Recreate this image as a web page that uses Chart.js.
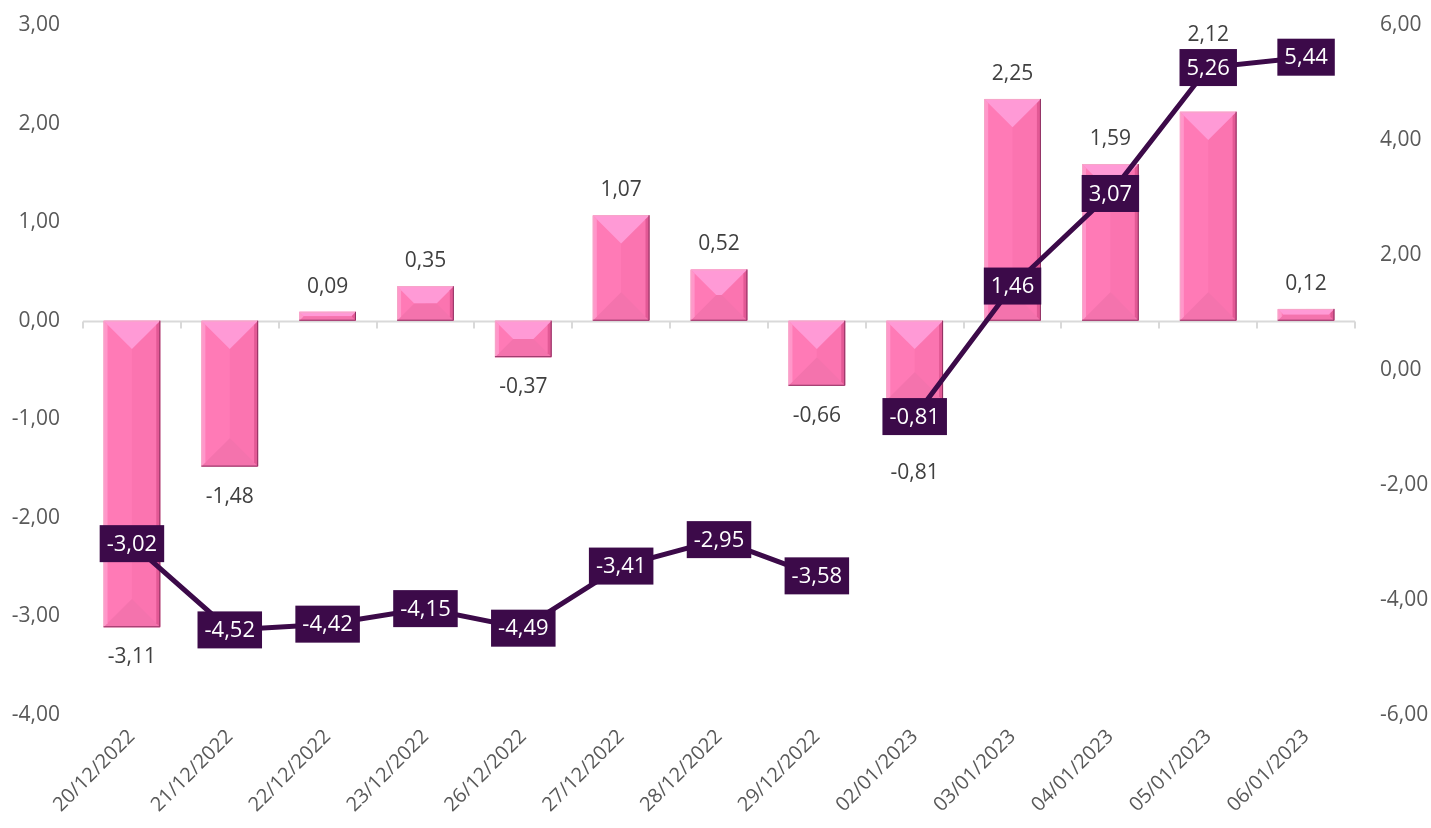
<!DOCTYPE html>
<html>
<head>
<meta charset="utf-8">
<script src="https://cdn.jsdelivr.net/npm/chart.js@4"></script>
<style>
  html, body { margin: 0; padding: 0; background: #fff; }
  #wrap { width: 1431px; height: 828px; }
</style>
</head>
<body>
<div id="wrap"><canvas id="chart"></canvas></div>
<script>
const dates = ['20/12/2022', '21/12/2022', '22/12/2022', '23/12/2022', '26/12/2022', '27/12/2022',
    '28/12/2022', '29/12/2022', '02/01/2023', '03/01/2023', '04/01/2023', '05/01/2023', '06/01/2023'];
const barValues = [-3.11, -1.48, 0.09, 0.35, -0.37, 1.07, 0.52, -0.66, -0.81, 2.25, 1.59, 2.12, 0.12];
const lineValues = [-3.02, -4.52, -4.42, -4.15, -4.49, -3.41, -2.95, -3.58, -0.81, 1.46, 3.07, 5.26, 5.44];
const gapAfter = 7; // no segment drawn between 29/12 and 02/01

const FONT = "'Open Sans', sans-serif";
const fmt = v => v.toFixed(2).replace('.', ',');

// bar labels that were moved out of the way of the line boxes
const labelNudge = { 8: 42, 11: -52 };

// bevelled look for the bars + zero line with tick marks
const bevelPlugin = {
    id: 'bevel',
    afterDatasetDraw(chart, args) {
        if (args.index !== 0) return;
        const ctx = chart.ctx;
        args.meta.data.forEach(bar => {
            const l = bar.x - bar.width / 2, r = bar.x + bar.width / 2;
            const t = Math.min(bar.y, bar.base), b = Math.max(bar.y, bar.base);
            const w = r - l, h = b - t;
            const d = Math.min(w / 2, h / 2);
            const e = Math.min(4, d);
            ctx.save();
            // right half slightly darker
            ctx.fillStyle = 'rgba(210,50,120,0.08)';
            ctx.fillRect(bar.x, t, r - bar.x, h);
            // top bevel
            ctx.beginPath();
            ctx.moveTo(l, t); ctx.lineTo(r, t); ctx.lineTo(r - d, t + d); ctx.lineTo(l + d, t + d); ctx.closePath();
            ctx.fillStyle = '#FF9AD6';
            ctx.fill();
            // bottom bevel
            ctx.beginPath();
            ctx.moveTo(l, b); ctx.lineTo(r, b); ctx.lineTo(r - d, b - d); ctx.lineTo(l + d, b - d); ctx.closePath();
            ctx.fillStyle = '#F473AD';
            ctx.fill();
            // left bevel
            ctx.beginPath();
            ctx.moveTo(l, t); ctx.lineTo(l, b); ctx.lineTo(l + e, b - e); ctx.lineTo(l + e, t + e); ctx.closePath();
            ctx.fillStyle = 'rgba(255,170,215,0.6)';
            ctx.fill();
            // right bevel
            ctx.beginPath();
            ctx.moveTo(r, t); ctx.lineTo(r, b); ctx.lineTo(r - e, b - e); ctx.lineTo(r - e, t + e); ctx.closePath();
            ctx.fillStyle = 'rgba(180,40,100,0.35)';
            ctx.fill();
            // outline
            ctx.lineWidth = 1;
            ctx.strokeStyle = '#F6A6C8';
            ctx.beginPath();
            ctx.moveTo(l + 0.5, b); ctx.lineTo(l + 0.5, t + 0.5); ctx.lineTo(r, t + 0.5);
            ctx.stroke();
            ctx.strokeStyle = '#8E3262';
            ctx.beginPath();
            ctx.moveTo(r - 0.5, t); ctx.lineTo(r - 0.5, b - 0.5); ctx.lineTo(l, b - 0.5);
            ctx.stroke();
            ctx.restore();
        });
    },
    beforeDatasetsDraw(chart) {
        const ctx = chart.ctx;
        const area = chart.chartArea;
        const y0 = Math.round(chart.scales.y.getPixelForValue(0)) + 0.5;
        ctx.save();
        ctx.strokeStyle = '#D9D9D9';
        ctx.lineWidth = 2;
        ctx.beginPath();
        ctx.moveTo(area.left, y0);
        ctx.lineTo(area.right, y0);
        const step = (area.right - area.left) / dates.length;
        for (let i = 0; i <= dates.length; i++) {
            const px = Math.round(area.left + i * step);
            ctx.moveTo(px, y0);
            ctx.lineTo(px, y0 + 7);
        }
        ctx.stroke();
        ctx.restore();
    }
};

// value labels: grey for bars, dark boxes for the line
const labelPlugin = {
    id: 'labels',
    afterDatasetsDraw(chart) {
        const ctx = chart.ctx;
        ctx.save();
        ctx.font = '21px ' + FONT;
        ctx.textAlign = 'center';
        ctx.textBaseline = 'middle';
        chart.getDatasetMeta(0).data.forEach((bar, i) => {
            const v = barValues[i];
            let y = v >= 0 ? bar.y - 25 : bar.y + 30;
            if (labelNudge[i]) y += labelNudge[i];
            ctx.fillStyle = '#404040';
            ctx.fillText(fmt(v), bar.x, y);
        });
        ctx.font = '22px ' + FONT;
        chart.getDatasetMeta(1).data.forEach((pt, i) => {
            const txt = fmt(lineValues[i]);
            const tw = ctx.measureText(txt).width;
            const bw = tw + 14, bh = 37;
            ctx.fillStyle = '#3C0A49';
            ctx.fillRect(pt.x - bw / 2, pt.y - bh / 2, bw, bh);
            ctx.fillStyle = '#FFFFFF';
            ctx.fillText(txt, pt.x, pt.y + 1);
        });
        ctx.restore();
    }
};

const noVertPad = s => { s.paddingTop = 0; s.paddingBottom = 0; };

new Chart(document.getElementById('chart'), {
    data: {
        labels: dates,
        datasets: [{
            type: 'bar',
            data: barValues,
            yAxisID: 'y',
            backgroundColor: '#FF7AB6',
            borderWidth: 0,
            barPercentage: 1,
            categoryPercentage: 0.58,
            order: 1
        }, {
            type: 'line',
            data: lineValues,
            yAxisID: 'y1',
            borderColor: '#3C0A49',
            borderWidth: 5,
            pointRadius: 0,
            tension: 0,
            segment: {
                borderColor: c => c.p0DataIndex === gapAfter ? 'rgba(0,0,0,0)' : undefined
            },
            order: 0
        }]
    },
    options: {
        responsive: true,
        maintainAspectRatio: false,
        animation: false,
        layout: { padding: { top: 25, left: 0, right: 0, bottom: 0 } },
        plugins: { legend: { display: false }, tooltip: { enabled: false } },
        scales: {
            x: {
                grid: { display: false, drawTicks: false },
                border: { display: false },
                ticks: {
                    color: '#595959', font: { family: FONT, size: 20 },
                    minRotation: 45, maxRotation: 45, padding: 10
                },
                afterFit: s => { s.height = 113; }
            },
            y: {
                position: 'left',
                min: -4, max: 3,
                grid: { display: false, drawTicks: false },
                border: { display: false },
                ticks: {
                    stepSize: 1, color: '#595959', font: { family: FONT, size: 21 },
                    padding: 23, callback: v => fmt(v)
                },
                afterFit: s => { s.width = 83; noVertPad(s); }
            },
            y1: {
                position: 'right',
                min: -6, max: 6,
                grid: { display: false, drawTicks: false },
                border: { display: false },
                ticks: {
                    stepSize: 2, color: '#595959', font: { family: FONT, size: 21 },
                    padding: 25, callback: v => fmt(v)
                },
                afterFit: s => { s.width = 76; noVertPad(s); }
            }
        }
    },
    plugins: [bevelPlugin, labelPlugin]
});
</script>
</body>
</html>
